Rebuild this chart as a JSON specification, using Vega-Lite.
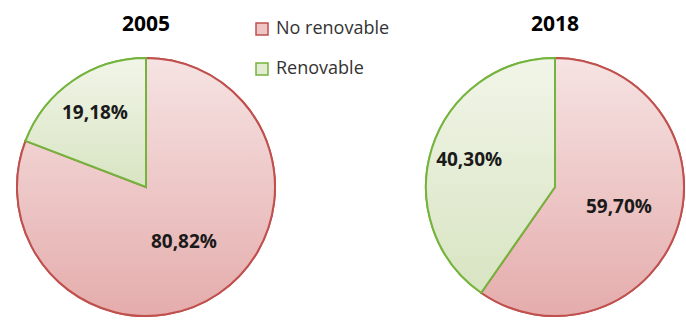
{
  "$schema": "https://vega.github.io/schema/vega-lite/v6.json",
  "padding": {"left": 13, "top": 14, "right": 0, "bottom": 0},
  "background": "white",
  "bounds": "flush",
  "data": {
    "values": [
      {"year": "2005", "category": "No renovable", "share": 0.8082},
      {"year": "2005", "category": "Renovable", "share": 0.1918},
      {"year": "2018", "category": "No renovable", "share": 0.5970},
      {"year": "2018", "category": "Renovable", "share": 0.4030}
    ]
  },
  "transform": [
    {"stack": "share", "groupby": ["year"], "sort": [{"field": "category", "order": "ascending"}], "as": ["start", "end"]}
  ],
  "spacing": 149,
  "facet": {
    "column": {
      "field": "year",
      "type": "nominal",
      "header": {
        "title": null,
        "labelFont": "Open Sans",
        "labelFontSize": 21,
        "labelFontWeight": "bold",
        "labelColor": "#000000",
        "labelPadding": 22
      }
    }
  },
  "spec": {
    "width": 260,
    "height": 260,
    "layer": [
      {
        "mark": {"type": "arc", "outerRadius": 129, "strokeWidth": 2},
        "encoding": {
          "theta": {"field": "start", "type": "quantitative", "scale": {"domain": [0, 1]}},
          "theta2": {"field": "end"},
          "fill": {
            "field": "category",
            "type": "nominal",
            "scale": {"domain": ["No renovable", "Renovable"], "range": ["#eec6c6", "#e3ebd3"]},
            "legend": {
              "title": null,
              "orient": "none",
              "legendX": 237,
              "legendY": -37,
              "symbolType": "square",
              "symbolSize": 144,
              "symbolStrokeWidth": 1.5,
              "labelFont": "Open Sans",
              "labelFontSize": 18,
              "labelColor": "#333333",
              "labelOffset": 5,
              "rowPadding": 22
            }
          },
          "stroke": {
            "field": "category",
            "type": "nominal",
            "scale": {"domain": ["No renovable", "Renovable"], "range": ["#c0504d", "#74b43c"]}
          }
        }
      },
      {
        "transform": [{"filter": "datum.category === 'No renovable'"}],
        "mark": {
          "type": "arc",
          "outerRadius": 129,
          "strokeWidth": 2,
          "stroke": "#c0504d",
          "fill": {"gradient": "linear", "x1": 0, "y1": 0, "x2": 0, "y2": 1, "stops": [{"offset": 0, "color": "#f6e3e3"}, {"offset": 1, "color": "#e5acac"}]}
        },
        "encoding": {
          "theta": {"field": "start", "type": "quantitative"},
          "theta2": {"field": "end"}
        }
      },
      {
        "transform": [{"filter": "datum.category === 'Renovable'"}],
        "mark": {
          "type": "arc",
          "outerRadius": 129,
          "strokeWidth": 2,
          "stroke": "#74b43c",
          "fill": {"gradient": "linear", "x1": 0, "y1": 0, "x2": 0, "y2": 1, "stops": [{"offset": 0, "color": "#f1f5e8"}, {"offset": 1, "color": "#d8e4c2"}]}
        },
        "encoding": {
          "theta": {"field": "start", "type": "quantitative"},
          "theta2": {"field": "end"}
        }
      },
      {
        "mark": {
          "type": "text",
          "radius": {"expr": "datum.category === 'Renovable' ? 90 : 67"},
          "font": "Open Sans",
          "fontSize": 19,
          "fontWeight": "bold",
          "color": "#1a1a1a"
        },
        "encoding": {
          "theta": {"field": "share", "type": "quantitative", "stack": true},
          "order": {"field": "category", "sort": "ascending"},
          "text": {"field": "share", "type": "quantitative", "format": ".2%"}
        }
      }
    ]
  },
  "config": {
    "view": {"stroke": null},
    "locale": {"number": {"decimal": ",", "thousands": ".", "grouping": [3], "currency": ["", " €"]}}
  }
}
